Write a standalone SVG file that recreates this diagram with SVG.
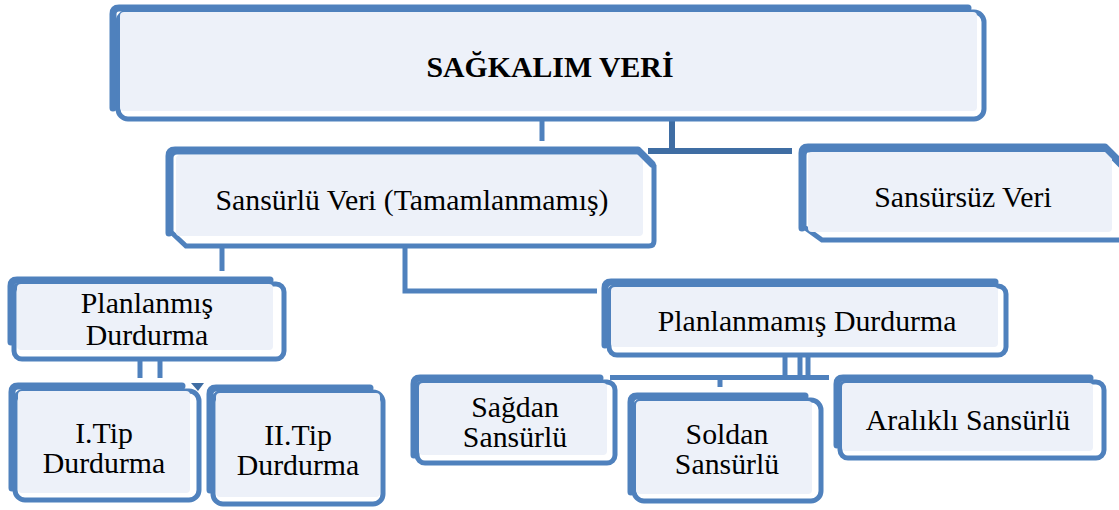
<svg xmlns="http://www.w3.org/2000/svg" width="1119" height="510" viewBox="0 0 1119 510">
<style>
.b{fill:#ffffff;stroke:#4F81BD;stroke-width:5}
.f{fill:#EDF1F9}
.a{fill:none;stroke:#4F81BD;stroke-width:7;stroke-linecap:round;stroke-linejoin:round}
.c{fill:none;stroke:#4F81BD;stroke-width:5}
.cd{fill:none;stroke:#3F6DA3;stroke-width:6}
text{font-family:"Liberation Serif","Times New Roman",serif;font-size:29.8px;fill:#000;text-anchor:middle}
.t{font-weight:bold}
</style>
<rect width="1119" height="510" fill="#ffffff"/>
<g id="connectors">
<line class="c" x1="542" y1="121" x2="542" y2="141"/>
<path class="cd" d="M672 121 V151 M648 151 H792"/>
<line class="c" x1="222" y1="248" x2="222" y2="271"/>
<path class="c" d="M405 248 V291 H597"/>
<line class="c" x1="140" y1="360" x2="140" y2="378"/>
<line class="c" x1="160" y1="360" x2="160" y2="378"/>
<path d="M191 383 L204 383 L198 391 Z" fill="#3F6DA3"/>
<line class="c" x1="785" y1="355" x2="785" y2="378"/>
<line class="c" x1="800" y1="355" x2="800" y2="378"/>
<line class="c" x1="808" y1="355" x2="808" y2="378"/>
<line class="c" x1="610" y1="377.5" x2="829" y2="377.5"/>
<line class="c" x1="720" y1="377" x2="720" y2="387"/>
</g>
<g id="n1">
<rect class="b" x="118" y="12" width="866" height="107" rx="10"/>
<rect class="f" x="120" y="12" width="857" height="99" rx="4"/>
<path class="a" d="M113 108 V14 Q113 8 119 8 H968"/>
<text class="t" x="550" y="77">SAĞKALIM VERİ</text>
</g>
<g id="n2">
<path class="b" d="M177 152 H640 L654 166 V241 Q654 246 649 246 H186 L171 232 V158 Q171 152 177 152 Z"/>
<rect class="f" x="176" y="155" width="467" height="81" rx="4"/>
<path class="a" d="M169 233 V156 Q169 150 175 150 H638 L652 164"/>
<text x="412" y="210">Sansürlü Veri (Tamamlanmamış)</text>
</g>
<g id="n3">
<path class="b" d="M808 150 H1105 L1125 170 V240 H822 L804 227 V156 Q804 150 808 150 Z"/>
<rect class="f" x="808" y="152" width="304" height="80" rx="4"/>
<path class="a" d="M802 228 V153 Q802 147 808 147 H1105 L1125 167"/>
<text x="963" y="207">Sansürsüz Veri</text>
</g>
<g id="n4">
<rect class="b" x="14" y="284" width="270" height="75" rx="8"/>
<rect class="f" x="17" y="284" width="256" height="66" rx="4"/>
<path class="a" d="M11 342 V286 Q11 280 17 280 H270"/>
<text x="147" y="313">Planlanmış</text>
<text x="147" y="345">Durdurma</text>
</g>
<g id="n5">
<rect class="b" x="609" y="286" width="397" height="69" rx="8"/>
<rect class="f" x="611" y="287" width="387" height="60" rx="4"/>
<path class="a" d="M605 345 V288 Q605 282 611 282 H995"/>
<text x="807" y="331">Planlanmamış Durdurma</text>
</g>
<g id="n6">
<rect class="b" x="15" y="391" width="184" height="109" rx="10"/>
<rect class="f" x="18" y="391" width="172" height="102" rx="4"/>
<path class="a" d="M12 488 V392 Q12 386 18 386 H182"/>
<text x="104" y="443">I.Tip</text>
<text x="104" y="473">Durdurma</text>
</g>
<g id="n7">
<rect class="b" x="213" y="392" width="170" height="112" rx="10"/>
<rect class="f" x="216" y="393" width="164" height="104" rx="4"/>
<path class="a" d="M210 490 V394 Q210 388 216 388 H370"/>
<text x="298" y="445">II.Tip</text>
<text x="298" y="475">Durdurma</text>
</g>
<g id="n8">
<rect class="b" x="417" y="382" width="198" height="81" rx="8"/>
<rect class="f" x="419" y="383" width="188" height="72" rx="4"/>
<path class="a" d="M414 455 V384 Q414 378 420 378 H600"/>
<text x="515" y="417">Sağdan</text>
<text x="515" y="447">Sansürlü</text>
</g>
<g id="n9">
<rect class="b" x="634" y="400" width="187" height="101" rx="10"/>
<rect class="f" x="636" y="401" width="176" height="93" rx="4"/>
<path class="a" d="M631 492 V402 Q631 396 637 396 H805"/>
<text x="727" y="444">Soldan</text>
<text x="727" y="474">Sansürlü</text>
</g>
<g id="n10">
<rect class="b" x="840" y="382" width="264" height="76" rx="8"/>
<rect class="f" x="842" y="383" width="251" height="68" rx="4"/>
<path class="a" d="M837 445 V384 Q837 378 843 378 H1090"/>
<text x="968" y="430">Aralıklı Sansürlü</text>
</g>
</svg>
